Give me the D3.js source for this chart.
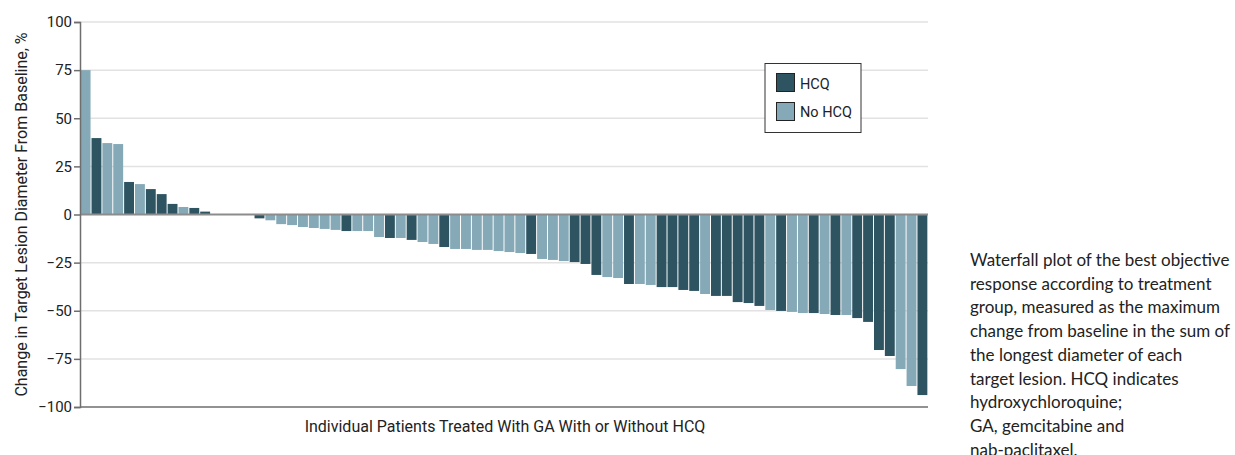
<!DOCTYPE html>
<html>
<head>
<meta charset="utf-8">
<script src="https://cdn.jsdelivr.net/npm/d3@7"></script>
<style>
  body { margin: 0; background: #fff; }
</style>
</head>
<body>
<div id="chart"></div>
<script>
var darkcolour = "#2e5462";
var lightcolour = "#85a9b7";
var axisFont = "Roboto, 'DejaVu Sans', sans-serif";

// best % change per patient, sorted
var changes = [75, 39.7, 37.1, 36.6, 16.9, 15.8, 13.2, 10.6, 5.5, 3.9, 3.4, 1.5,
  0, 0, 0, 0,
  -2, -3, -5, -5.5, -6.5, -7, -7.5, -8, -8.6, -8.6, -8.6, -11.7, -12.2, -12.2, -13.2, -14.3,
  -15.3, -16.9, -17.9, -17.9, -18.4, -18.4, -19, -19.5, -20, -20.5, -23.1, -23.6, -24.2, -24.7,
  -25.7, -31.4, -32.5, -33, -36.1, -36.1, -36.6, -37.7, -37.7, -39.2, -39.7, -41.3, -42.3, -42.3,
  -45.5, -46, -47.5, -49.6, -50.1, -50.6, -51.2, -51.2, -51.7, -52.2, -52.2, -53.8, -55.8,
  -70.4, -73.5, -80.3, -89.1, -93.8];
// H = HCQ, N = No HCQ
var groups = ["N","H","N","N","H","N","H","H","H","N","H","H",
  "H","H","H","H",
  "H","N","N","N","N","N","N","N","H","N","N","N","H","N","H","N",
  "N","H","N","N","N","N","N","N","N","H","N","N","N","H",
  "H","H","N","N","H","N","N","H","H","H","H","N","H","H",
  "H","H","H","N","H","N","N","H","N","H","N","H","H",
  "H","H","N","N","H"];
var yTicks = [100, 75, 50, 25, 0, -25, -50, -75, -100];
var legendItems = [{label: "HCQ", key: "H"}, {label: "No HCQ", key: "N"}];
var captionLines = [
  "Waterfall plot of the best objective",
  "response according to treatment",
  "group, measured as the maximum",
  "change from baseline in the sum of",
  "the longest diameter of each",
  "target lesion. HCQ indicates",
  "hydroxychloroquine;",
  "GA, gemcitabine and",
  "nab-paclitaxel."
];

var margin = {left: 80, top: 22};
var plotW = 848, plotH = 385;

var svg = d3.select("#chart").append("svg")
    .attr("width", 1235)
    .attr("height", 455)
    .style("display", "block");

var g = svg.append("g").attr("transform", "translate(" + margin.left + "," + margin.top + ")");

var x = d3.scaleBand()
    .domain(d3.range(changes.length))
    .range([0, plotW])
    .paddingInner(0.09)
    .paddingOuter(0.06);

var y = d3.scaleLinear().domain([-100, 100]).range([plotH, 0]);

// gridlines
g.selectAll(".grid")
    .data(yTicks.filter(function(d){ return d !== 0 && d !== -100; }))
    .enter().append("line")
    .attr("x1", 0).attr("x2", plotW)
    .attr("y1", function(d){ return y(d); })
    .attr("y2", function(d){ return y(d); })
    .attr("stroke", "#e2e2e2")
    .attr("stroke-width", 1.5);

// legend
var lg = g.append("g").attr("transform", "translate(685,41.5)");
lg.append("rect")
    .attr("width", 96).attr("height", 69)
    .attr("fill", "#fff").attr("stroke", "#333").attr("stroke-width", 1);
lg.selectAll(".sw").data(legendItems).enter().append("rect")
    .attr("x", 11.5).attr("y", function(d,i){ return 10 + i*29; })
    .attr("width", 18).attr("height", 18)
    .attr("fill", function(d){ return d.key === "H" ? darkcolour : lightcolour; })
    .attr("stroke", "#222").attr("stroke-width", 1);
lg.selectAll(".lt").data(legendItems).enter().append("text")
    .attr("x", 35).attr("y", function(d,i){ return 25 + i*28.7; })
    .style("font-family", axisFont).style("font-size", "14.5px").attr("fill", "#222")
    .text(function(d){ return d.label; });

// bars
g.selectAll(".bar")
    .data(changes)
    .enter().append("rect")
    .attr("x", function(d,i){ return x(i); })
    .attr("width", x.bandwidth())
    .attr("y", function(d){ return y(Math.max(0, d)); })
    .attr("height", function(d){ return Math.abs(y(d) - y(0)); })
    .attr("fill", function(d,i){ return groups[i] === "H" ? darkcolour : lightcolour; });

// zero line
g.append("line")
    .attr("x1", 0).attr("x2", plotW)
    .attr("y1", y(0)).attr("y2", y(0))
    .attr("stroke", "#8c8c8c").attr("stroke-width", 2);

// bottom axis line
g.append("line")
    .attr("x1", 0).attr("x2", plotW)
    .attr("y1", plotH).attr("y2", plotH)
    .attr("stroke", "#6e6e6e").attr("stroke-width", 1.5);

// y axis
var yAxis = g.append("g")
    .call(d3.axisLeft(y).tickValues(yTicks).tickSize(6).tickPadding(2));
yAxis.select(".domain").attr("stroke", "#6e6e6e").attr("stroke-width", 1.5);
yAxis.selectAll(".tick line").attr("stroke", "#6e6e6e").attr("stroke-width", 1.5);
yAxis.selectAll("text")
    .style("font-family", axisFont).style("font-size", "15px").attr("fill", "#222");

// axis titles
svg.append("text")
    .attr("transform", "translate(27," + (margin.top + plotH/2) + ") rotate(-90)")
    .attr("text-anchor", "middle")
    .style("font-family", axisFont).style("font-size", "16px").attr("fill", "#222")
    .text("Change in Target Lesion Diameter From Baseline, %");

svg.append("text")
    .attr("x", 505).attr("y", 432)
    .attr("text-anchor", "middle")
    .style("font-family", axisFont).style("font-size", "16px").attr("fill", "#222")
    .text("Individual Patients Treated With GA With or Without HCQ");

// caption on the right
svg.append("text")
    .style("font-family", "Lato, 'Open Sans', sans-serif")
    .style("font-size", "17px")
    .attr("fill", "#222")
    .selectAll("tspan")
    .data(captionLines)
    .enter().append("tspan")
    .attr("x", 970)
    .attr("y", function(d,i){ return 266 + i*23.7; })
    .text(function(d){ return d; });
</script>
</body>
</html>
